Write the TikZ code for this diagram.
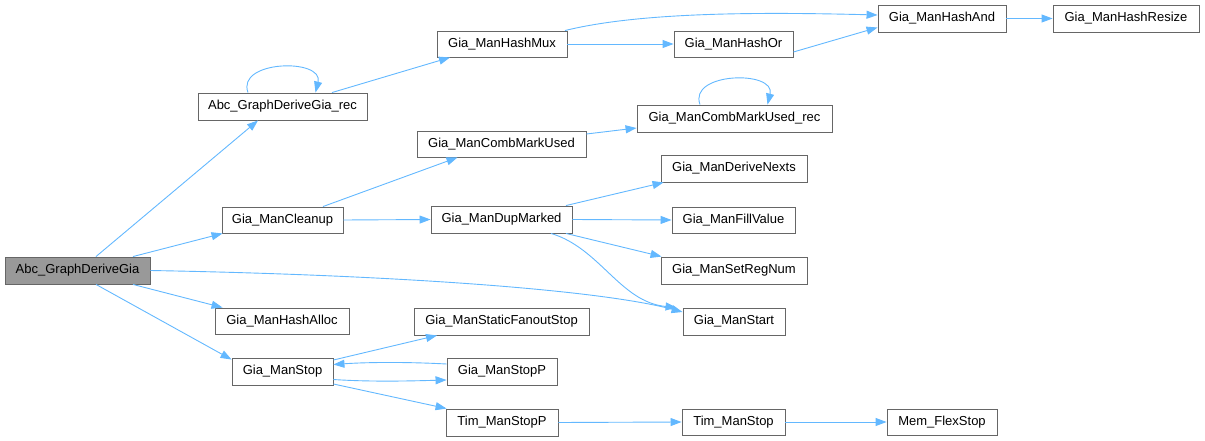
\documentclass[tikz,border=0pt]{standalone}
\usepackage{fontspec}
\setmainfont{Liberation Sans}
\usetikzlibrary{arrows.meta}
\definecolor{edgec}{HTML}{63B8FF}
\definecolor{boxc}{HTML}{666666}
\definecolor{rootc}{HTML}{999999}
\tikzset{
  fn/.style={draw=boxc, line width=0.9pt, fill=white, inner sep=0pt, minimum height=27pt,
    font=\fontsize{13}{15}\selectfont, text=black},
  rootfn/.style={fn, fill=rootc},
  call/.style={draw=edgec, line width=0.9pt, -{Triangle[length=11pt,width=8pt]}},
}
\begin{document}
\begin{tikzpicture}[x=1pt,y=-1pt]
\useasboundingbox (0,0) rectangle (1205,441);
% nodes
\node[rootfn, minimum width=145pt] (root) at (77.5,270.5) {Abc\_GraphDeriveGia};
\node[fn, minimum width=169pt] (rec) at (282.5,106.5) {Abc\_GraphDeriveGia\_rec};
\node[fn, minimum width=121pt, minimum height=26pt] (cleanup) at (282.5,220) {Gia\_ManCleanup};
\node[fn, minimum width=130pt, minimum height=26pt] (hashmux) at (502,44) {Gia\_ManHashMux};
\node[fn, minimum width=119pt, minimum height=26pt] (hashor) at (733.5,44) {Gia\_ManHashOr};
\node[fn, minimum width=128pt] (hashand) at (942,18.5) {Gia\_ManHashAnd};
\node[fn, minimum width=146pt] (hashresize) at (1126,18.5) {Gia\_ManHashResize};
\node[fn, minimum width=195pt] (combrec) at (734.5,118.5) {Gia\_ManCombMarkUsed\_rec};
\node[fn, minimum width=169pt, minimum height=26pt] (comb) at (501.5,144) {Gia\_ManCombMarkUsed};
\node[fn, minimum width=146pt] (nexts) at (734,168.5) {Gia\_ManDeriveNexts};
\node[fn, minimum width=141pt] (dup) at (501.5,219.5) {Gia\_ManDupMarked};
\node[fn, minimum width=123pt, minimum height=26pt] (fill) at (733.5,220) {Gia\_ManFillValue};
\node[fn, minimum width=146pt] (regnum) at (734,270.5) {Gia\_ManSetRegNum};
\node[fn, minimum width=102pt] (start) at (734,321.5) {Gia\_ManStart};
\node[fn, minimum width=175pt] (sfo) at (501.5,321.5) {Gia\_ManStaticFanoutStop};
\node[fn, minimum width=134pt, minimum height=26pt] (halloc) at (282,321) {Gia\_ManHashAlloc};
\node[fn, minimum width=101pt] (stop) at (282.5,371.5) {Gia\_ManStop};
\node[fn, minimum width=110pt] (stopp) at (502,371.5) {Gia\_ManStopP};
\node[fn, minimum width=112pt] (tstopp) at (502,422.5) {Tim\_ManStopP};
\node[fn, minimum width=103pt, minimum height=26pt] (tstop) at (733.5,422) {Tim\_ManStop};
\node[fn, minimum width=110pt, minimum height=26pt] (mem) at (942,422) {Mem\_FlexStop};
% edges
\draw[call] ([xshift=18.5pt]root.north) -- ([xshift=-24.5pt]rec.south);
\draw[call] ([xshift=-34.5pt]rec.north) .. controls (236,60) and (324,58) .. ([xshift=33pt]rec.north);
\draw[call] ([xshift=49.5pt]rec.north) -- ([xshift=-52pt]hashmux.south);
\draw[call] (hashmux.east) -- (hashor.west);
\draw[call] ([xshift=63pt]hashmux.north) .. controls (640,12) and (760,12) .. ([yshift=3.5pt]hashand.west);
\draw[call] ([yshift=-8pt]hashor.east) -- ([yshift=-9pt]hashand.west);
\draw[call] (hashand.east) -- (hashresize.west);
\draw[call] ([xshift=55.5pt]root.north) -- ([xshift=1pt]cleanup.south west);
\draw[call] ([xshift=40.5pt]cleanup.north) -- ([xshift=-44pt]comb.south);
\draw[call] ([yshift=10pt]comb.east) -- ([yshift=-9.5pt]combrec.west);
\draw[call] ([xshift=-34.5pt]combrec.north) .. controls (688,72) and (776,70) .. ([xshift=33pt]combrec.north);
\draw[call] (cleanup.east) -- (dup.west);
\draw[call] ([xshift=64.5pt]dup.north) -- ([xshift=3pt]nexts.south west);
\draw[call] (dup.east) -- (fill.west);
\draw[call] ([xshift=64.5pt]dup.south) -- ([xshift=1pt]regnum.north west);
\draw[call] ([xshift=49.5pt]dup.south) .. controls (600,248) and (620,302) .. ([xshift=-6pt]start.north west);
\draw[call] (root.east) .. controls (400,275) and (600,290) .. ([yshift=9.5pt]start.west);
\draw[call] ([xshift=55.5pt]root.south) -- ([xshift=8pt]halloc.north west);
\draw[call] ([xshift=18.5pt]root.south) -- ([yshift=-2pt]stop.north west);
\draw[call] ([yshift=11.5pt]stop.east) -- ([xshift=-64.5pt]sfo.south);
\draw[call] ([yshift=-8pt]stop.east) .. controls (370,382) and (410,381) .. ([yshift=-8.5pt]stopp.west);
\draw[call] ([yshift=7.5pt]stopp.west) .. controls (410,362) and (370,362) .. ([yshift=7pt]stop.east);
\draw[call] ([yshift=-12.5pt]stop.east) -- ([xshift=1pt]tstopp.north west);
\draw[call] (tstopp.east) -- (tstop.west);
\draw[call] (tstop.east) -- (mem.west);
\end{tikzpicture}
\end{document}
